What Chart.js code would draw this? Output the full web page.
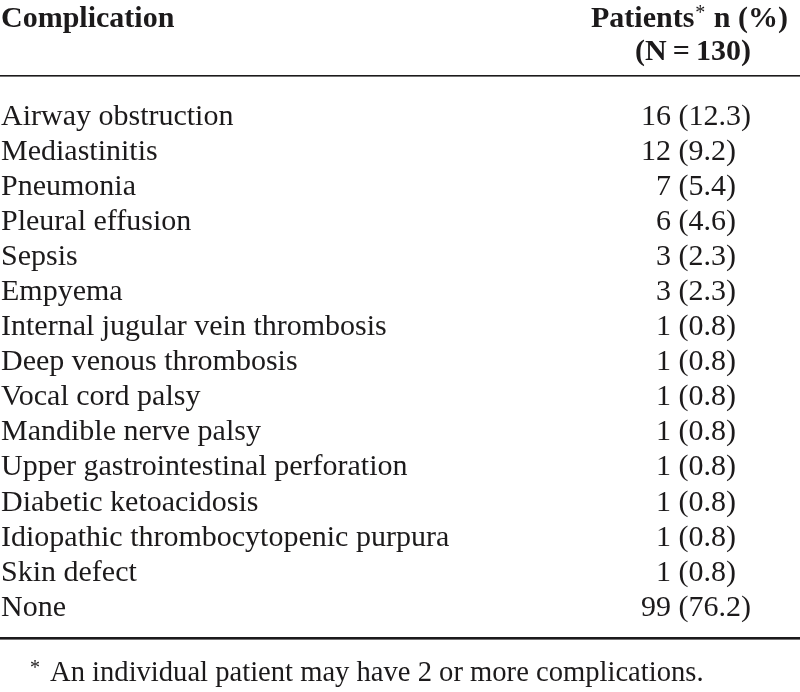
<!DOCTYPE html>
<html><head><meta charset="utf-8">
<script src="https://cdn.jsdelivr.net/npm/chart.js@4.4.1/dist/chart.umd.min.js"></script>
<style>html,body{margin:0;padding:0;background:#fff}#wrap{width:800px;height:692px;position:relative}canvas{display:block}</style>
</head><body><div id="wrap"><canvas id="c" width="800" height="692"></canvas></div>
<script>
const complications = [
  'Airway obstruction', 'Mediastinitis', 'Pneumonia', 'Pleural effusion', 'Sepsis', 'Empyema',
  'Internal jugular vein thrombosis', 'Deep venous thrombosis', 'Vocal cord palsy',
  'Mandible nerve palsy', 'Upper gastrointestinal perforation', 'Diabetic ketoacidosis',
  'Idiopathic thrombocytopenic purpura', 'Skin defect', 'None'
];
const patientCounts = [16, 12, 7, 6, 3, 3, 1, 1, 1, 1, 1, 1, 1, 1, 99];
const patientPercents = [12.3, 9.2, 5.4, 4.6, 2.3, 2.3, 0.8, 0.8, 0.8, 0.8, 0.8, 0.8, 0.8, 0.8, 76.2];
const columnTitle = 'Complication';
const valueTitle = ['Patients', '*', ' n (%)'];
const valueSubtitle = '(N\u2009=\u2009130)';
const footnoteMark = '*';
const footnoteText = 'An individual patient may have 2 or more complications.';

const INK = '#1c1a1b';
const SERIF = '"Liberation Serif", "Times New Roman", serif';

const tablePlugin = {
  id: 'tableText',
  afterDraw(chart) {
    const ctx = chart.ctx;
    const y = chart.scales.y;
    ctx.save();
    ctx.fillStyle = INK;
    ctx.strokeStyle = INK;
    // header
    ctx.textBaseline = 'alphabetic';
    ctx.textAlign = 'left';
    ctx.font = 'bold 30px ' + SERIF;
    ctx.fillText(columnTitle, 1, 27);
    const wP = ctx.measureText(valueTitle[0]).width;
    const wN = ctx.measureText(valueTitle[2]).width;
    ctx.font = '20px ' + SERIF;
    const wS = ctx.measureText(valueTitle[1]).width + 2;
    let x0 = 788 - (wP + wS + wN);
    ctx.font = 'bold 30px ' + SERIF;
    ctx.fillText(valueTitle[0], x0, 27);
    ctx.font = '20px ' + SERIF;
    ctx.fillText(valueTitle[1], x0 + wP + 1, 19);
    ctx.font = 'bold 30px ' + SERIF;
    ctx.fillText(valueTitle[2], x0 + wP + wS, 27);
    ctx.textAlign = 'center';
    ctx.fillText(valueSubtitle, 693, 60);
    // rules
    ctx.fillRect(0, 75, 800, 1.6);
    ctx.fillRect(0, 637, 800, 2.6);
    // values
    ctx.font = '30px ' + SERIF;
    ctx.textBaseline = 'middle';
    patientCounts.forEach((n, i) => {
      const py = y.getPixelForValue(i);
      ctx.textAlign = 'right';
      ctx.fillText(String(n), 671, py);
      ctx.textAlign = 'left';
      ctx.fillText('(' + patientPercents[i].toFixed(1) + ')', 678.5, py);
    });
    // footnote
    ctx.textBaseline = 'alphabetic';
    ctx.textAlign = 'left';
    ctx.font = '20px ' + SERIF;
    ctx.fillText(footnoteMark, 30, 674);
    ctx.font = '28.6px ' + SERIF;
    ctx.fillText(footnoteText, 50, 681);
    ctx.restore();
  }
};

new Chart(document.getElementById('c'), {
  type: 'bar',
  data: {
    labels: complications,
    datasets: [{ data: patientCounts, backgroundColor: 'rgba(0,0,0,0)', borderWidth: 0 }]
  },
  options: {
    indexAxis: 'y',
    responsive: false,
    animation: false,
    devicePixelRatio: 1,
    layout: { padding: { top: 99.4, bottom: 66.6, left: 1, right: 10 } },
    plugins: { legend: { display: false }, tooltip: { enabled: false } },
    events: [],
    scales: {
      x: { display: false, min: 0, max: 100 },
      y: {
        grid: { display: false, drawTicks: false },
        border: { display: false },
        ticks: {
          autoSkip: false,
          mirror: true,
          padding: 0,
          color: INK,
          font: { family: SERIF, size: 30, lineHeight: 1 }
        }
      }
    }
  },
  plugins: [tablePlugin]
});
</script>
</body></html>
